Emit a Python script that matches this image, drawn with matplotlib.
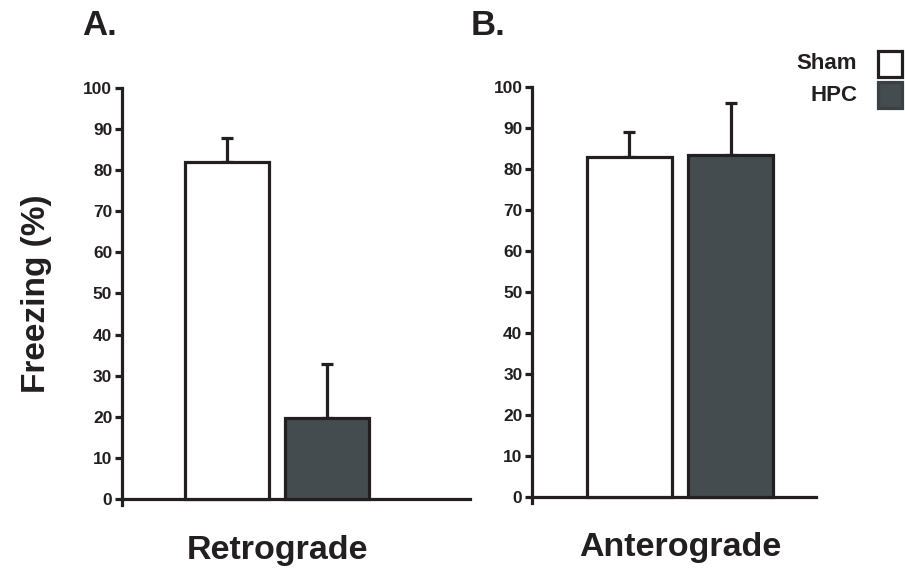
import matplotlib
matplotlib.use("Agg")
import matplotlib.pyplot as plt
import matplotlib.transforms as mtransforms
from matplotlib.patches import Rectangle

plt.rcParams['font.family'] = ['Liberation Sans', 'DejaVu Sans']
plt.rcParams['font.weight'] = 'bold'

groups = ['Sham', 'HPC']
retro_mean = [82, 19.7]
retro_err = [5.8, 13.1]
antero_mean = [83, 83.3]
antero_err = [6, 12.7]
panel_titles = ['Retrograde', 'Anterograde']
panel_letters = ['A.', 'B.']
y_ticks = list(range(0, 101, 10))

ink = '#231f20'
fill = ['white', '#454c4f']
legend_edge = [ink, '#3a4043']

fig = plt.figure(figsize=(9.05, 5.71), dpi=100)
axA = fig.add_axes([0.1348, 0.1156, 0.385, 0.7302])
axB = fig.add_axes([0.588, 0.119, 0.3137, 0.7286])


def draw(ax, means, errs, xlim, title):
    xs = list(range(len(means)))
    ax.bar(xs, means, width=0.84, color=fill, edgecolor=ink, linewidth=2.3, zorder=3)
    for x, m, e in zip(xs, means, errs):
        ax.errorbar(x, m, yerr=[[0], [e]], fmt='none', ecolor=ink,
                    elinewidth=2.3, capsize=4, capthick=2.3, zorder=2)
    ax.set_xlim(*xlim)
    ax.set_ylim(-1.5, 100)
    ax.spines['top'].set_visible(False)
    ax.spines['right'].set_visible(False)
    ax.spines['bottom'].set_position(('data', 0))
    for s in ['left', 'bottom']:
        ax.spines[s].set_linewidth(2.3)
        ax.spines[s].set_color(ink)
    ax.spines['left'].set_bounds(-1.5, 100)
    ax.set_yticks(y_ticks)
    ax.set_yticklabels([str(t) for t in y_ticks], fontsize=12.5, fontweight='bold', color=ink)
    ax.tick_params(axis='y', direction='out', length=5, width=2.3, color=ink, pad=2)
    ax.set_xticks([])
    # group label centred under the pair of bars
    trans = mtransforms.blended_transform_factory(ax.transData, ax.transAxes)
    ax.text((xs[0] + xs[-1]) / 2, -0.108, title, transform=trans, ha='center', va='center',
            fontsize=24.5, fontweight='bold', color=ink)


draw(axA, retro_mean, retro_err, (-1.05, 2.43), panel_titles[0])
draw(axB, antero_mean, antero_err, (-0.96, 1.84), panel_titles[1])

fig.text(0.04, 0.485, 'Freezing (%)', rotation=90, ha='center', va='center',
         fontsize=24, fontweight='bold', color=ink)
fig.text(0.11, 0.956, panel_letters[0], ha='center', va='center', fontsize=25,
         fontweight='bold', color=ink)
fig.text(0.539, 0.956, panel_letters[1], ha='center', va='center', fontsize=25,
         fontweight='bold', color=ink)

# legend
for i, (g, c, ec) in enumerate(zip(groups, fill, legend_edge)):
    yc = 0.888 - i * 0.055
    fig.text(0.947, yc, g, ha='right', va='center', fontsize=16,
             fontweight='bold', color=ink)
    fig.patches.append(Rectangle((0.9705, yc - 0.022), 0.0265, 0.045,
                                 transform=fig.transFigure, facecolor=c,
                                 edgecolor=ec, linewidth=2.3))

fig.savefig('out.png', dpi=100)
